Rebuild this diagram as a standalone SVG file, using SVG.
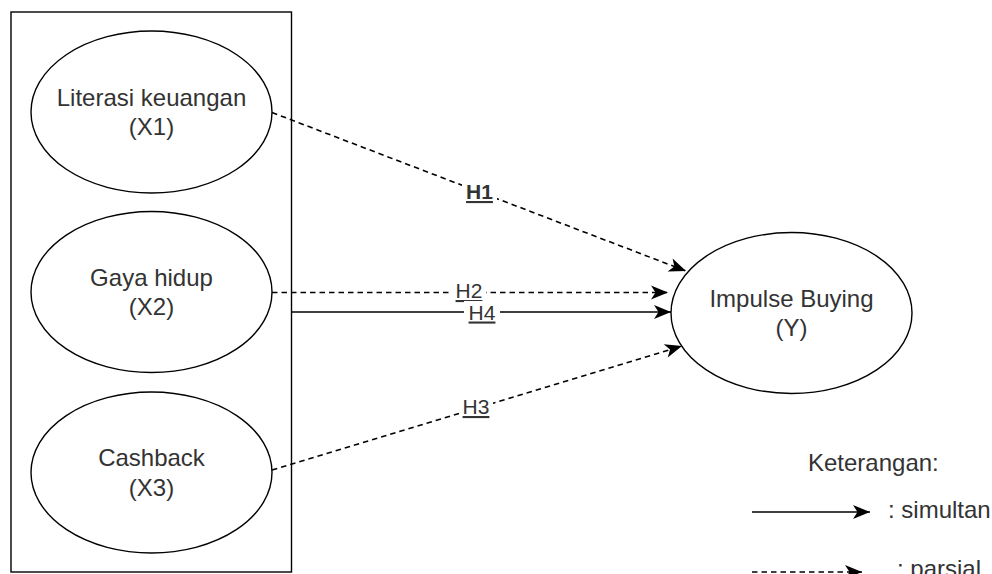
<svg xmlns="http://www.w3.org/2000/svg" width="992" height="574" viewBox="0 0 992 574">
  <defs>
    <marker id="arrow" markerUnits="userSpaceOnUse" markerWidth="20" markerHeight="18" viewBox="-18 -9 20 18" refX="0" refY="0" orient="auto">
      <path d="M0,0 L-17,-7 L-12.5,0 L-17,7 Z" fill="#000"/>
    </marker>
    <style>
      .box{fill:none;stroke:#000;stroke-width:1.4}
      .node{fill:#fff;stroke:#000;stroke-width:1.4}
      .lbl{font-family:"Liberation Sans",Arial,sans-serif;font-size:24px;fill:#333;text-anchor:middle}
      .edge{fill:none;stroke:#000;stroke-width:1.6}
      .dash{stroke-dasharray:5.5 4}
      .h{font-family:"Liberation Sans",Arial,sans-serif;font-size:21px;fill:#333;text-anchor:middle;text-decoration:underline}
      .bg{fill:#fff}
      .leg{font-family:"Liberation Sans",Arial,sans-serif;font-size:24px;fill:#333}
    </style>
  </defs>
  <rect width="992" height="574" fill="#fff"/>

  <!-- frame around the independent variables -->
  <rect id="frame" class="box" x="11" y="12" width="280.5" height="560"/>

  <g id="x1">
    <ellipse class="node" cx="151.5" cy="112" rx="120.5" ry="81"/>
    <text class="lbl" x="151.5" y="105.5">Literasi keuangan</text>
    <text class="lbl" x="151.5" y="135">(X1)</text>
  </g>
  <g id="x2">
    <ellipse class="node" cx="151.5" cy="292" rx="120.5" ry="80.5"/>
    <text class="lbl" x="151.5" y="285.5">Gaya hidup</text>
    <text class="lbl" x="151.5" y="315">(X2)</text>
  </g>
  <g id="x3">
    <ellipse class="node" cx="151.5" cy="472.5" rx="120.5" ry="80.5"/>
    <text class="lbl" x="151.5" y="466">Cashback</text>
    <text class="lbl" x="151.5" y="495.5">(X3)</text>
  </g>
  <g id="y">
    <ellipse class="node" cx="791.5" cy="313" rx="120.5" ry="80.5"/>
    <text class="lbl" x="791.5" y="306.5">Impulse Buying</text>
    <text class="lbl" x="791.5" y="336">(Y)</text>
  </g>

  <g id="connectors">
    <path class="edge dash" d="M272,112.5 L686,271" marker-end="url(#arrow)"/>
    <path class="edge dash" d="M272,292.5 L668,292.5" marker-end="url(#arrow)"/>
    <path class="edge" d="M291.5,312 L671,312" marker-end="url(#arrow)"/>
    <path class="edge dash" d="M272,470 L682,346" marker-end="url(#arrow)"/>

    <rect class="bg" x="462" y="182" width="35" height="25"/>
    <text class="h" x="479.5" y="199" font-weight="bold">H1</text>
    <rect class="bg" x="452" y="281" width="34" height="23"/>
    <text class="h" x="469" y="298">H2</text>
    <rect class="bg" x="464" y="301" width="36" height="26"/>
    <text class="h" x="482" y="319.5">H4</text>
    <rect class="bg" x="459" y="397" width="34" height="25"/>
    <text class="h" x="476" y="414">H3</text>
  </g>

  <g id="legend">
    <text class="leg" x="808" y="471">Keterangan:</text>
    <path class="edge" d="M752,512 L870,512" marker-end="url(#arrow)"/>
    <text class="leg" x="888" y="518">: simultan</text>
    <path class="edge dash" d="M752,572 L862,572" marker-end="url(#arrow)"/>
    <text class="leg" x="897" y="577">: parsial</text>
  </g>
</svg>
